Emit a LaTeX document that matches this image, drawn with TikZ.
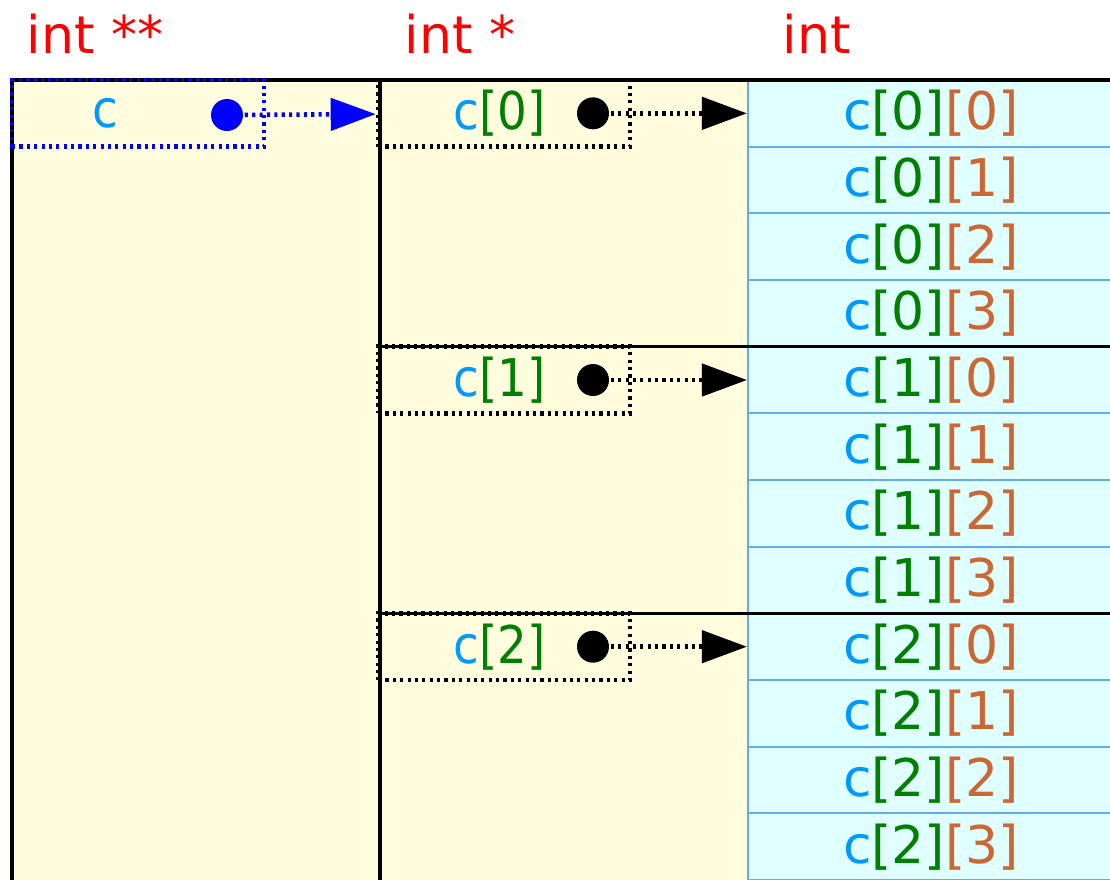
\documentclass[tikz,border=0pt]{standalone}
\usepackage{fontspec}
\setmainfont{DejaVu Sans}
\newfontfamily\narrowfont{DejaVu Sans Condensed}
\usetikzlibrary{arrows.meta}

\definecolor{ylw}{RGB}{255,253,222}
\definecolor{cyn}{RGB}{224,255,255}
\definecolor{cellline}{RGB}{102,170,238}
\definecolor{cblue}{RGB}{0,153,255}
\definecolor{cgreen}{RGB}{0,128,0}
\definecolor{corange}{RGB}{204,102,51}

\def\rowh{0.6667}

\begin{document}
\begin{tikzpicture}[line width=1pt, font=\fontsize{14.8}{17}\selectfont]
    \tikzstyle{title}=[text=red, anchor=base west, inner sep=0pt]
    \tikzstyle{cell}=[rectangle, draw=cellline, line width=0.6pt, fill=cyn, minimum width=3.66cm, minimum height=\rowh cm, inner sep=0pt]
    \tikzstyle{ptr}=[rectangle, draw, line width=1.3pt, dash pattern=on 0.9pt off 1.2pt, minimum width=2.52cm, minimum height=\rowh cm, inner sep=0pt]
    \tikzstyle{lbl}=[font=\fontsize{14.8}{17}\narrowfont]
    \tikzstyle{dot}=[circle, fill, minimum size=0.32cm, inner sep=0pt]
    \tikzstyle{link}=[line width=1.3pt, dash pattern=on 0.9pt off 1.2pt, -{Triangle[length=0.45cm,width=0.32cm]}]

    \useasboundingbox (0,0) rectangle (11.1,-8.8);

    % Draw the type headings
    \node[title] (T-2) at (0.25,-0.53) {int **};
    \node[title] (T-1) at (4.03,-0.53) {int *};
    \node[title] (T-0) at (7.81,-0.53) {int};

    % Background of the pointer columns
    \fill[ylw] (0.12,-0.8) rectangle (7.48,-8.9);

    % Draw the int cells
    \foreach \i in {0,1,2}
        \foreach \j in {0,...,3}
            \node[cell] (E-\i-\j) at (9.31,{-0.8-\rowh/2-(4*\i+\j)*\rowh})
                {\textcolor{cblue}{c}\textcolor{cgreen}{[\i]}\textcolor{corange}{[\j]}};

    % Column borders
    \draw (0.12,-8.9) -- (0.12,-0.8) -- (11.2,-0.8);
    \draw (3.80,-8.9) -- (3.80,-0.8);
    \draw (3.80,{-0.8-4*\rowh}) -- (11.2,{-0.8-4*\rowh});
    \draw (3.80,{-0.8-8*\rowh}) -- (11.2,{-0.8-8*\rowh});

    % Draw the int ** pointer
    \node[ptr, draw=blue] (P) at (1.38,{-0.8-\rowh/2}) {};
    \node[lbl, text=cblue] (L) at (1.05,{-0.8-\rowh/2}) {c};
    \node[dot, blue] (D) at (2.27,-1.15) {};

    % Draw the int * pointers
    \foreach \i in {0,1,2}
    {
        \node[ptr] (P-\i) at (5.04,{-0.8-\rowh/2-4*\i*\rowh}) {};
        \node[lbl] (L-\i) at (5.00,{-0.8-\rowh/2-4*\i*\rowh})
            {\textcolor{cblue}{c}\textcolor{cgreen}{[\i]}};
        \node[dot] (D-\i) at (5.93,{-0.8-\rowh/2-4*\i*\rowh}) {};
    }

    % Connect every pointer with what it points to
    \draw[link, blue] (D) -- (P-0);
    \foreach \i in {0,1,2}
        \draw[link] (D-\i) -- (E-\i-0);
\end{tikzpicture}
\end{document}
